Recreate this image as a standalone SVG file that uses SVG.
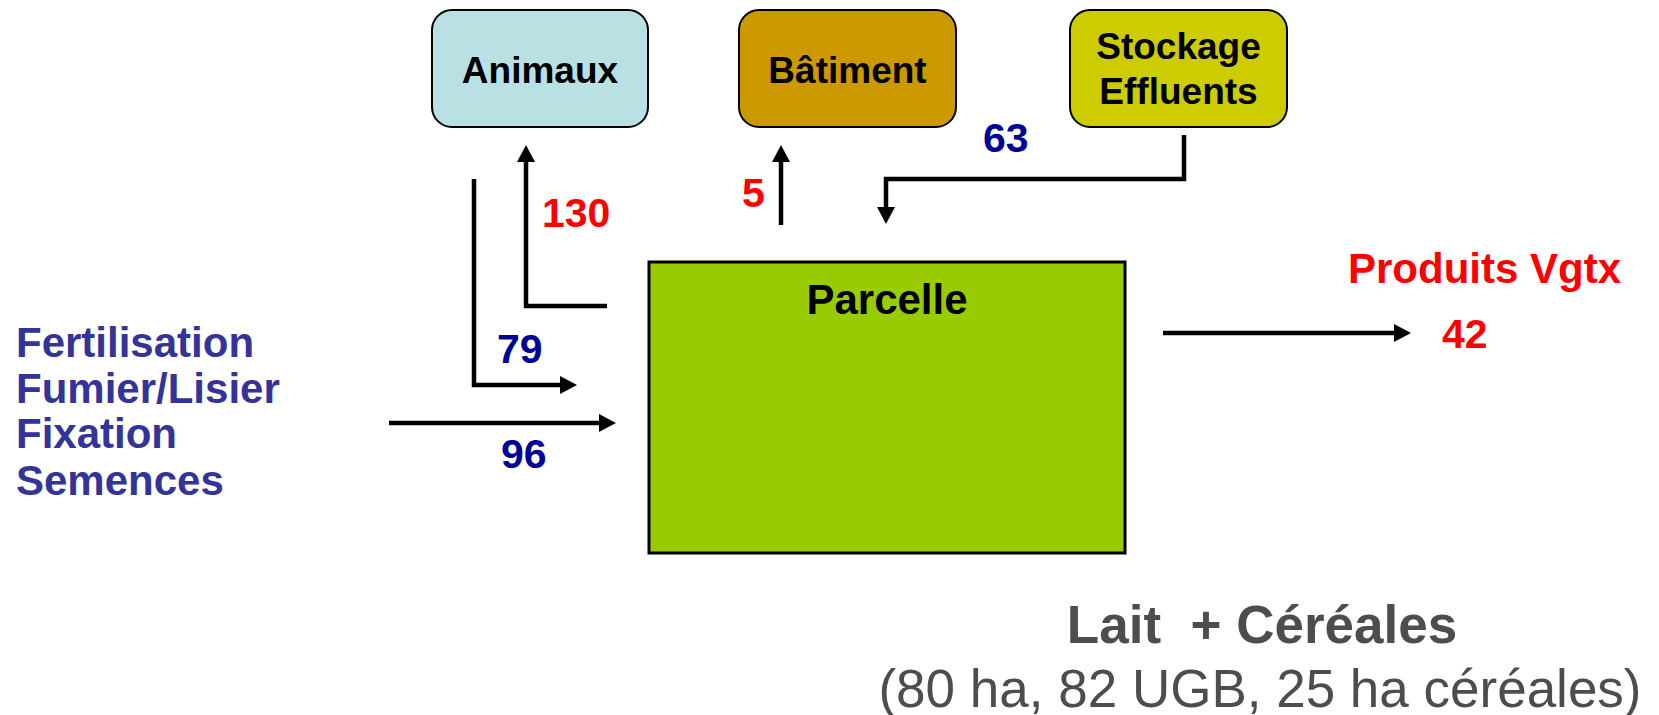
<svg xmlns="http://www.w3.org/2000/svg" width="1659" height="715" viewBox="0 0 1659 715">
<style>
  .box { stroke: #000; stroke-width: 2; }
  .bt { font-family: "Liberation Sans", Arial, sans-serif; font-weight: bold; font-size: 37px; fill: #000; text-anchor: middle; }
  .conn { fill: none; stroke: #000; stroke-width: 4.5; stroke-linejoin: miter; stroke-linecap: butt; }
  .num { font-family: "Liberation Sans", Arial, sans-serif; font-weight: bold; font-size: 41px; }
  .red { fill: #FF0000; }
  .navy { fill: #000099; }
  .left { font-family: "Liberation Sans", Arial, sans-serif; font-weight: bold; font-size: 42px; fill: #333399; }
</style>
<defs>
  <marker id="ah" markerUnits="userSpaceOnUse" markerWidth="18" markerHeight="18" viewBox="0 0 18 18" refX="1" refY="9" orient="auto">
    <path d="M0,0 L17,9 L0,18 z" fill="#000"/>
  </marker>
</defs>
<rect width="1659" height="715" fill="#fff"/>

<g id="animaux">
  <rect class="box" x="432" y="10" width="216" height="117" rx="20" ry="20" fill="#B9E0E3"/>
  <text class="bt" x="540" y="83">Animaux</text>
</g>
<g id="batiment">
  <rect class="box" x="739" y="10" width="217" height="117" rx="20" ry="20" fill="#CC9900"/>
  <text class="bt" x="847.5" y="83">Bâtiment</text>
</g>
<g id="stockage">
  <rect class="box" x="1070" y="10" width="217" height="117" rx="20" ry="20" fill="#CCCC00"/>
  <text class="bt" x="1178.5" y="59">Stockage</text>
  <text class="bt" x="1178.5" y="104">Effluents</text>
</g>
<g id="parcelle">
  <rect x="649" y="262" width="476" height="291" fill="#99CC00" stroke="#000" stroke-width="3"/>
  <text class="bt" style="font-size:42px" x="887" y="314">Parcelle</text>
</g>

<g id="connectors">
  <path class="conn" d="M607,306 H526 V161" marker-end="url(#ah)"/>
  <path class="conn" d="M474,179 V385 H561" marker-end="url(#ah)"/>
  <path class="conn" d="M389,423 H600" marker-end="url(#ah)"/>
  <path class="conn" d="M781,225 V161" marker-end="url(#ah)"/>
  <path class="conn" d="M1184,135 V179 H886 V208" marker-end="url(#ah)"/>
  <path class="conn" d="M1163,333 H1395" marker-end="url(#ah)"/>
</g>

<g id="labels">
  <text class="num red" x="542" y="227">130</text>
  <text class="num red" x="742" y="207">5</text>
  <text class="num navy" x="983" y="152">63</text>
  <text class="num navy" x="497" y="363">79</text>
  <text class="num navy" x="501" y="468">96</text>
  <text class="num red" x="1442" y="348">42</text>
  <text class="num red" style="font-size:42px" x="1348" y="283">Produits Vgtx</text>
</g>

<g id="inputs">
  <text class="left" x="16" y="357">Fertilisation</text>
  <text class="left" x="16" y="403">Fumier/Lisier</text>
  <text class="left" x="16" y="448">Fixation</text>
  <text class="left" x="16" y="495">Semences</text>
</g>

<g id="caption">
  <text x="1262" y="643" text-anchor="middle" font-family="'Liberation Sans', Arial, sans-serif" font-weight="bold" font-size="53" fill="#4D4D4D">Lait&#160; + Céréales</text>
  <text x="1260" y="707" text-anchor="middle" font-family="'Liberation Sans', Arial, sans-serif" font-size="53" fill="#4D4D4D">(80 ha, 82 UGB, 25 ha céréales)</text>
</g>
</svg>
